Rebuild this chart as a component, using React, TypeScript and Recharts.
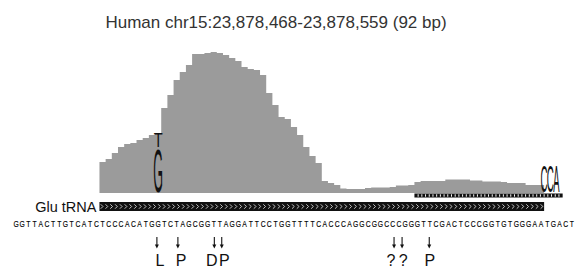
import React from 'react';
import { ComposedChart, Area, Scatter, XAxis, YAxis, ReferenceArea } from 'recharts';

const TITLE = 'Human chr15:23,878,468-23,878,559 (92 bp)';
const TRNA_LABEL = 'Glu tRNA';

// genomic sequence, one letter per base
const SEQUENCE = [
  'GGTTACTTGTCATC',
  'TCCCACATGGTCTAGCGGTTAGGATTCCTGGTTTTCACCCAGGCGGCCCGGGTTCGACTCCCGGTGTGGGAA',
  'TGACT',
].join('');

// tRNA gene spans bases [TRNA_START, TRNA_END)
const TRNA_START = 14;
const TRNA_END = 86;

// read coverage per base of the tRNA (relative units)
const COVERAGE = [
  31, 34, 40, 46, 49, 50, 53, 55, 58, 60,
  85, 98, 113, 121, 128, 139, 139, 140, 141, 140,
  138, 135, 132, 126, 124, 123, 118, 100, 88, 76,
  74, 66, 58, 46, 37, 30, 12, 10, 8, 4.5,
  4, 4, 4, 5, 5.5, 5.5, 5.5, 6, 7.5, 7.5,
  8, 11, 12, 12, 12, 12, 13.5, 13.5, 13.5, 13.5,
  12.5, 12.5, 11.5, 11.5, 11.5, 11, 10, 10, 10, 8,
  8, 8,
];

// mismatch logo at base 23 (letter, coverage from, coverage to)
const VARIANT_POS = 23;
const VARIANT_LETTERS = [
  { letter: 'G', from: 1, to: 45 },
  { letter: 'T', from: 46, to: 60 },
];

// untemplated CCA tail
const CCA_LETTERS = ['C', 'C', 'A'];
const CCA_START = 86;
const CCA_HEIGHT = 28;

// reads with CCA tail span
const TAIL_READS_START = 65;
const TAIL_READS_END = 89;

// modification marks (arrow position, label position, label)
const MARK_POS = [23.3, 26.7, 32.6, 33.8, 61.7, 63.0, 67.4];
const LABEL_POS = [23.8, 27.2, 32.2, 34.2, 61.2, 63.2, 67.5];
const MARK_LABELS = ['L', 'P', 'D', 'P', '?', '?', 'P'];

const FONT = '"Liberation Sans", Arial, Helvetica, sans-serif';
const AREA_FILL = '#9b9b9b';
const INK = '#111';

const coverageRows = COVERAGE.map((v, i) => ({ x: TRNA_START + i, cov: v }));
coverageRows.push({ x: TRNA_END, cov: COVERAGE[COVERAGE.length - 1] });

const SEQ_Y = -34;
const MARK_Y = -44;
const LABEL_Y = -72.5;

const seqRows = SEQUENCE.split('').map((b, i) => ({ x: i + 0.5, y: SEQ_Y, b }));
const markRows = MARK_POS.map((p) => ({ x: p, y: MARK_Y }));
const labelRows = LABEL_POS.map((p, i) => ({ x: p, y: LABEL_Y, t: MARK_LABELS[i] }));

const INK_W: Record<string, number> = { A: 0.66, C: 0.63, G: 0.69, T: 0.59 };

const stretched = (letter: string) => (props: any) => {
  const { x, y, width, height } = props;
  const F = 100;
  const sx = width / (INK_W[letter] * F);
  const sy = height / (0.72 * F);
  return (
    <text
      x={0}
      y={0}
      transform={`translate(${x + width / 2},${y + height}) scale(${sx},${sy})`}
      fontSize={F}
      fontFamily={FONT}
      textAnchor="middle"
      fill="#111"
    >
      {letter}
    </text>
  );
};

const chevronBar = (props: any) => {
  const { x, y, width, height } = props;
  const n = Math.round(width / 4.8);
  const step = width / n;
  const cy = y + height / 2;
  const chev = [];
  for (let i = 0; i < n; i++) {
    const cx = x + step * (i + 0.5);
    chev.push(
      <polyline
        key={i}
        points={`${cx - 1.1},${cy - 2.2} ${cx + 1.1},${cy} ${cx - 1.1},${cy + 2.2}`}
        fill="none"
        stroke="#d8d8d8"
        strokeWidth={0.9}
      />
    );
  }
  return (
    <g>
      <rect x={x} y={y} width={width} height={height} fill="#111" />
      {chev}
    </g>
  );
};

const dottedBar = (props: any) => {
  const { x, y, width, height } = props;
  const n = Math.round(width / 3.7);
  const step = width / n;
  const gaps = [];
  for (let i = 1; i < n; i++) {
    gaps.push(
      <rect key={i} x={x + step * i - 0.5} y={y + 0.8} width={1} height={height - 1.6} fill="#fff" />
    );
  }
  return (
    <g>
      <rect x={x} y={y} width={width} height={height} fill="#111" />
      {gaps}
    </g>
  );
};

const seqShape = (props: any) => {
  const { cx, cy, payload } = props;
  return (
    <text
      x={0}
      y={0}
      transform={`translate(${cx},${cy}) scale(0.74,1)`}
      fontSize={9.2}
      fontFamily={FONT}
      textAnchor="middle"
      fill="#000"
      stroke="#000"
      strokeWidth={0.15}
    >
      {payload.b}
    </text>
  );
};

const arrowShape = (props: any) => {
  const { cx, cy } = props;
  return (
    <g>
      <line x1={cx} y1={cy} x2={cx} y2={cy + 8} stroke="#111" strokeWidth={1.1} />
      <path d={`M${cx - 2},${cy + 7.5} L${cx + 2},${cy + 7.5} L${cx},${cy + 11.5} Z`} fill="#111" />
    </g>
  );
};

const labelShape = (props: any) => {
  const { cx, cy, payload } = props;
  return (
    <text x={cx} y={cy} fontSize={16} fontFamily={FONT} textAnchor="middle" fill={INK}>
      {payload.t}
    </text>
  );
};

export default function App() {
  return (
    <div style={{ position: 'absolute', left: 0, top: 0, width: 575, height: 267, background: '#fff' }}>
      <ComposedChart
        width={575}
        height={267}
        data={coverageRows}
        margin={{ top: 43, right: 0, bottom: 0, left: 13 }}
      >
        <XAxis dataKey="x" type="number" domain={[0, SEQUENCE.length]} hide height={0} />
        <YAxis type="number" domain={[-74, 150]} hide width={0} />
        <Area
          type="stepAfter"
          dataKey="cov"
          fill={AREA_FILL}
          fillOpacity={1}
          stroke="none"
          baseValue={0}
          isAnimationActive={false}
        />
        <ReferenceArea
          x1={TRNA_START}
          x2={TRNA_END}
          y1={-18}
          y2={-9}
          ifOverflow="visible"
          shape={chevronBar}
          label={{ value: TRNA_LABEL, position: 'left', offset: 3, fontSize: 14.5, fill: INK, fontFamily: FONT }}
        />
        <ReferenceArea
          x1={TAIL_READS_START}
          x2={TAIL_READS_END}
          y1={-4.5}
          y2={-0.5}
          ifOverflow="visible"
          shape={dottedBar}
        />
        {VARIANT_LETTERS.map((l, i) => (
          <ReferenceArea
            key={'v' + i}
            x1={VARIANT_POS - 0.2}
            x2={VARIANT_POS + 1.2}
            y1={l.from}
            y2={l.to}
            ifOverflow="visible"
            shape={stretched(l.letter)}
          />
        ))}
        {CCA_LETTERS.map((l, i) => (
          <ReferenceArea
            key={'c' + i}
            x1={CCA_START + i - 0.5}
            x2={CCA_START + i + 0.5}
            y1={1}
            y2={CCA_HEIGHT}
            ifOverflow="visible"
            shape={stretched(l)}
          />
        ))}
        <Scatter data={seqRows} dataKey="y" shape={seqShape} isAnimationActive={false} />
        <Scatter data={markRows} dataKey="y" shape={arrowShape} isAnimationActive={false} />
        <Scatter data={labelRows} dataKey="y" shape={labelShape} isAnimationActive={false} />
      </ComposedChart>
      <svg width={575} height={267} style={{ position: 'absolute', left: 0, top: 0, pointerEvents: 'none' }}>
        <text x={276} y={27.5} textAnchor="middle" fontSize={17} fontFamily={FONT} fill="#333">
          {TITLE}
        </text>
      </svg>
    </div>
  );
}
